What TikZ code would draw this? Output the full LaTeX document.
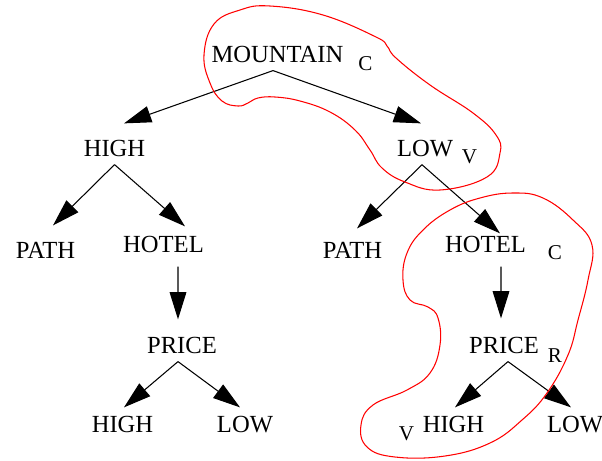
\documentclass[tikz,border=0pt]{standalone}
\usepackage{fontspec}
\setmainfont{Liberation Serif}
\usetikzlibrary{arrows.meta}
\definecolor{loopred}{HTML}{FF0000}

\begin{document}
\begin{tikzpicture}[x=0.02cm, y=-0.02cm,
    word/.style={inner sep=0pt, anchor=base, font=\fontsize{14}{17}\selectfont},
    tag/.style={inner sep=0pt, anchor=base, font=\fontsize{12}{14}\selectfont},
    arr/.style={line width=0.6pt, -{Triangle[length=15.5pt, width=9.5pt]}},
    loop/.style={line width=0.6pt, loopred}]
          \useasboundingbox (0,0) rectangle (602,460);
          % the two branches of the tree
          \node[word] (mountain) at (277.5,62) {MOUNTAIN};
          \node[word] (high) at (114.5,156) {HIGH};
          \node[word] (low) at (425,156) {LOW};
          \node[word] (highpath) at (45.5,258) {PATH};
          \node[word] (highhotel) at (163.5,252) {HOTEL};
          \node[word] (highprice) at (182,353) {PRICE};
          \node[word] (hphigh) at (122.5,432) {HIGH};
          \node[word] (hplow) at (245,432) {LOW};
          \node[word] (lowpath) at (352.5,258) {PATH};
          \node[word] (lowhotel) at (485.5,252) {HOTEL};
          \node[word] (lowprice) at (504,353) {PRICE};
          \node[word] (lphigh) at (453.5,432) {HIGH};
          \node[word] (lplow) at (575,432) {LOW};
          % role letters
          \node[tag] (tagm) at (365.5,70) {C};
          \node[tag] (tagl) at (469.5,163) {V};
          \node[tag] (tagh) at (555,259) {C};
          \node[tag] (tagp) at (555,362) {R};
          \node[tag] (tagv) at (406.5,440) {V};
          \draw[arr] ([shift={(-4.5,8)}]mountain.south) -- ([shift={(9.5,-16)}]high.north);
          \draw[arr] ([shift={(-4.5,8)}]mountain.south) -- ([shift={(-4,-16)}]low.north);
          \draw[arr] ([shift={(0,8)}]high.south) -- ([shift={(7.5,-16)}]highpath.north);
          \draw[arr] ([shift={(0,8)}]high.south) -- ([shift={(21.5,-9)}]highhotel.north);
          \draw[arr] ([shift={(14.5,14)}]highhotel.south) -- ([shift={(-4,-17)}]highprice.north);
          \draw[arr] ([shift={(-4,8)}]highprice.south) -- ([shift={(1.5,-8)}]hphigh.north);
          \draw[arr] ([shift={(-4,8)}]highprice.south) -- ([shift={(-5,-8)}]hplow.north);
          \draw[arr] ([shift={(-3,8)}]low.south) -- ([shift={(4.5,-13)}]lowpath.north);
          \draw[arr] ([shift={(-3,8)}]low.south) -- ([shift={(14.5,-2)}]lowhotel.north);
          \draw[arr] ([shift={(15.5,14)}]lowhotel.south) -- ([shift={(-3,-18)}]lowprice.north);
          \draw[arr] ([shift={(4,8)}]lowprice.south) -- ([shift={(1.5,-8)}]lphigh.north);
          \draw[arr] ([shift={(4,8)}]lowprice.south) -- ([shift={(-4,-8)}]lplow.north);
          % hand drawn loops
          \draw[loop] plot[smooth cycle, tension=0.7] coordinates {(204,55) (214,24) (240,10) (270,6) (323,15) (376,37) (387,46) (396,58) (430,85) (473,113) (496,135) (500,153) (487,177) (440,190) (405,182) (382,168) (370,150) (355,130) (330,112) (300,101) (275,97) (258,98) (248,103) (238,106) (222,101) (210,83)};
          \draw[loop] plot[smooth cycle, tension=0.7] coordinates {(423,230) (450,210) (480,198) (513,193) (543,198) (573,220) (592,245) (588,280) (578,320) (568,355) (547,393) (522,420) (490,443) (445,456) (395,457) (367,447) (361,425) (373,405) (407,390) (430,373) (440,345) (438,318) (428,307) (410,300) (403,280) (407,253)};
        \end{tikzpicture}
\end{document}
